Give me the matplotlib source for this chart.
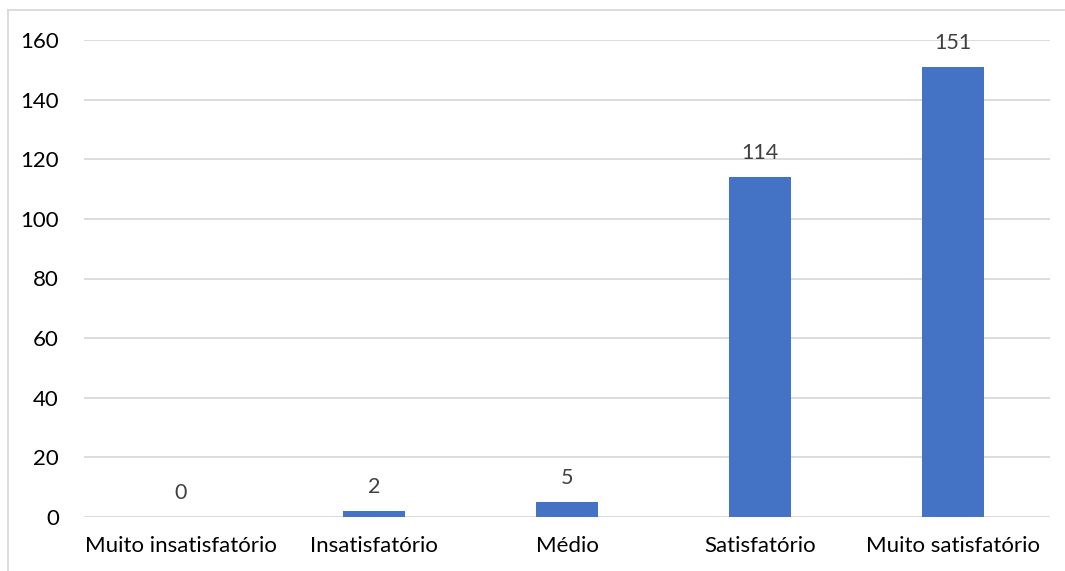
import numpy as np
import matplotlib.pyplot as plt
from matplotlib.lines import Line2D

categorias = ['Muito insatisfatório', 'Insatisfatório', 'Médio', 'Satisfatório', 'Muito satisfatório']
valores = [0, 2, 5, 114, 151]
yticks = [0, 20, 40, 60, 80, 100, 120, 140, 160]

plt.rcParams['font.family'] = ['Lato', 'DejaVu Sans']

fig = plt.figure(figsize=(10.65, 5.71), dpi=100)
ax = fig.add_axes([84/1065, 1-517/571, (1050-84)/1065, (517-40)/571])

x = np.arange(len(categorias))
bars = ax.bar(x, valores, width=0.32, color='#4472C4', zorder=3)
for xi, v in zip(x, valores):
    ax.annotate(str(v), (xi, v), xytext=(0, 13), textcoords='offset points',
                ha='center', va='baseline', fontsize=15.5, color='#404040')

ax.set_xlim(-0.5, len(categorias) - 0.5)
ax.set_ylim(0, 160)
ax.set_yticks(yticks)
ax.set_xticks(x)
ax.set_xticklabels(categorias)
ax.tick_params(axis='both', length=0, labelsize=16, colors='black')
ax.tick_params(axis='y', pad=18)
ax.tick_params(axis='x', pad=14)
ax.grid(axis='y', color='#d9d9d9', linewidth=1.3, zorder=0)
for s in ax.spines.values():
    s.set_visible(False)

# chart frame (only left and top visible in the crop)
fig.add_artist(Line2D([8/1065, 8/1065], [0, 1-10/571], color='#d9d9d9', linewidth=1.3, transform=fig.transFigure))
fig.add_artist(Line2D([8/1065, 1064/1065], [1-10/571, 1-10/571], color='#d9d9d9', linewidth=1.3, transform=fig.transFigure))

fig.savefig('out.png', dpi=100)
